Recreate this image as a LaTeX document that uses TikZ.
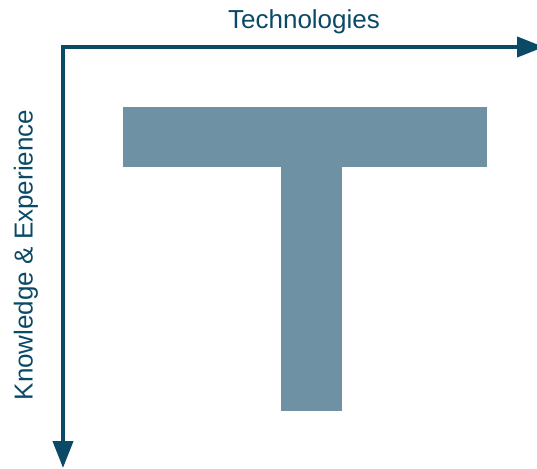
\documentclass[tikz,border=0pt]{standalone}
\usepackage{fontspec}
\setmainfont{Liberation Sans}
\usetikzlibrary{arrows.meta}
\usetikzlibrary{positioning}

\definecolor{axisblue}{HTML}{0B4A66}
\definecolor{tgrey}{HTML}{6E91A3}

\tikzset{
  axis/.style={draw=axisblue, line width=4pt, line join=miter,
    {Triangle[length=27pt, width=20pt]}-{Triangle[length=27pt, width=20pt]}},
  axislabel/.style={text=axisblue, font=\fontsize{26}{31}\selectfont, inner sep=0pt}
}

\begin{document}
\begin{tikzpicture}[x=1pt, y=-1pt]
          \useasboundingbox (0,0) rectangle (537,468);
          % axes, corner top left
          \coordinate (origin) at (63,47);
          \coordinate (xend) at (544,47);
          \coordinate (yend) at (63,468);
          \draw[axis] (xend) -- (origin) -- (yend);
          % labels
          \node[axislabel] (techlabel) at (304,22) {Technologies};
          \node[axislabel, rotate=90] (knowlabel) at (26,255) {Knowledge \& Experience};
          % the T: bar and stem
          \fill[tgrey] (123,107) rectangle (487,167);
          \fill[tgrey] (281,166) rectangle (342,411);
        \end{tikzpicture}
\end{document}
